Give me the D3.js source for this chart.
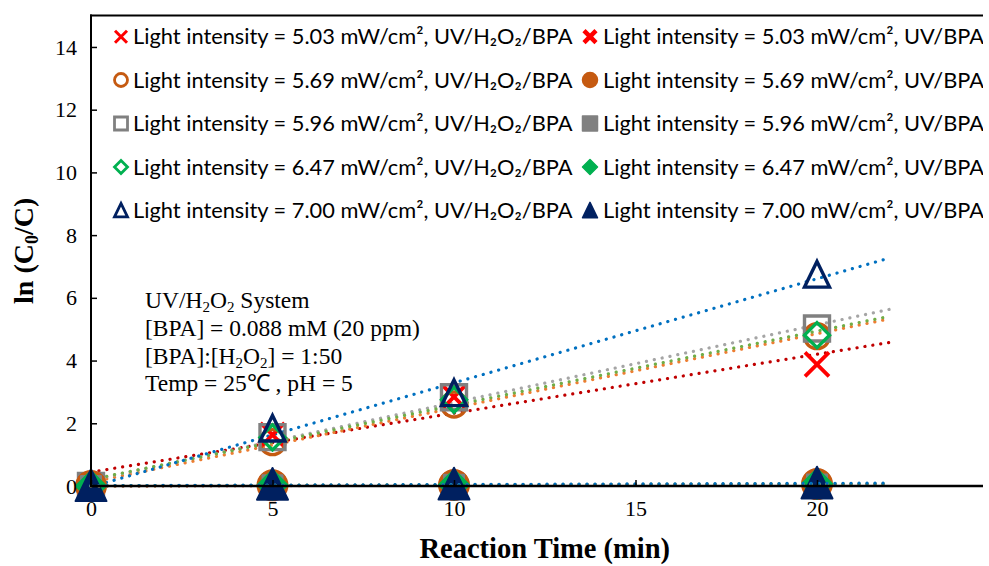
<!DOCTYPE html>
<html><head><meta charset="utf-8">
<script src="https://cdn.jsdelivr.net/npm/d3@7"></script>
<style>body{margin:0;background:#fff}svg{display:block}</style>
</head><body>
<svg id="c" width="989" height="566"></svg>
<script>
// ---- data ----
const times = [0, 5, 10, 20];
const intensities = ["5.03", "5.69", "5.96", "6.47", "7.00"];
const uvH2O2 = [
  [0, 1.63, 2.84, 3.88],
  [0, 1.40, 2.60, 4.78],
  [0, 1.56, 2.83, 5.02],
  [0, 1.55, 2.75, 4.81],
  [0, 1.82, 2.95, 6.73]
];
const uvOnly = [
  [0, 0.01, 0.03, 0.05],
  [0, 0.02, 0.03, 0.06],
  [0, 0.02, 0.04, 0.05],
  [0, 0.03, 0.04, 0.07],
  [0, 0.04, 0.05, 0.08]
];
const xTicks = [0, 5, 10, 15, 20];
const yTicks = [0, 2, 4, 6, 8, 10, 12, 14];
const annotation = ["UV/H_2O_2 System", "[BPA] = 0.088 mM (20 ppm)", "[BPA]:[H_2O_2] = 1:50", "Temp = 25\u2103 , pH = 5"];

// ---- styles ----
const shapes = ["x", "circle", "square", "diamond", "triangle"];
const markerColors = ["#FF0000", "#C55A11", "#808080", "#00B050", "#002060"];
const trendColors = ["#C00000", "#ED7D31", "#A5A5A5", "#70AD47", "#0070C0"];
const filledSizes = [22, 30, 20, 30, 31];

const svg = d3.select("#c");
const x = d3.scaleLinear().domain([0, 25]).range([91, 998.5]);
const y = d3.scaleLinear().domain([0, 15]).range([486, 15.6]);
const clipRight = 983;
const serif = "'Liberation Serif','Times New Roman',serif";

svg.append("defs").append("clipPath").attr("id", "clip")
  .append("rect").attr("x", 0).attr("y", 0).attr("width", clipRight).attr("height", 566);

function markerPath(shape, s) {
  const p = d3.path(), h = s / 2;
  if (shape === "x") { p.moveTo(-h, -h); p.lineTo(h, h); p.moveTo(-h, h); p.lineTo(h, -h); }
  else if (shape === "circle") { p.moveTo(h, 0); p.arc(0, 0, h, 0, 2 * Math.PI); p.closePath(); }
  else if (shape === "square") { p.rect(-h, -h, s, s); }
  else if (shape === "diamond") { p.moveTo(0, -h); p.lineTo(h, 0); p.lineTo(0, h); p.lineTo(-h, 0); p.closePath(); }
  else if (shape === "triangle") { const hh = s * 0.54; p.moveTo(0, -hh); p.lineTo(h, hh * 0.9); p.lineTo(-h, hh * 0.9); p.closePath(); }
  return p.toString();
}

function fit(xs, ys) {
  const n = xs.length, mx = d3.mean(xs), my = d3.mean(ys);
  let sxy = 0, sxx = 0;
  for (let i = 0; i < n; i++) { sxy += (xs[i] - mx) * (ys[i] - my); sxx += (xs[i] - mx) ** 2; }
  const b = sxy / sxx; return { a: my - b * mx, b };
}

const g = svg.append("g").attr("clip-path", "url(#clip)");

// axes
const yAxis = d3.axisLeft(y).tickValues(yTicks).tickSize(-6).tickPadding(14).tickFormat(d3.format("d"));
const yg = svg.append("g").attr("transform", `translate(${x(0)},0)`).call(yAxis)
  .attr("font-family", serif).attr("font-size", 22);
yg.select(".domain").remove();
yg.selectAll("line").attr("stroke", "#000").attr("stroke-width", 1.5);
yg.selectAll("text").style("font-family", serif).style("font-size", "22px").attr("fill", "#000");

const xAxis = d3.axisBottom(x).tickValues(xTicks).tickSize(-6).tickPadding(14).tickFormat(d3.format("d"));
const xg = svg.append("g").attr("transform", `translate(0,${y(0)})`).call(xAxis)
  .attr("font-family", serif).attr("font-size", 22);
xg.select(".domain").remove();
xg.selectAll("line").attr("stroke", "#000").attr("stroke-width", 1.5);
xg.selectAll("text").style("font-family", serif).style("font-size", "22px").attr("fill", "#000");

// frame lines
svg.append("line").attr("x1", x(0)).attr("x2", x(0)).attr("y1", y(15) - 1).attr("y2", y(0)).attr("stroke", "#000").attr("stroke-width", 2);
svg.append("line").attr("x1", x(0) - 1).attr("x2", clipRight).attr("y1", y(15)).attr("y2", y(15)).attr("stroke", "#000").attr("stroke-width", 2);
svg.append("line").attr("x1", x(0) - 1).attr("x2", clipRight).attr("y1", y(0)).attr("y2", y(0)).attr("stroke", "#000").attr("stroke-width", 2.5);

const line = d3.line().x(d => x(d[0])).y(d => y(d[1]));
function trend(vals, i) {
  const f = fit(times, vals);
  g.append("path").attr("d", line([[0, f.a], [22, f.a + 22 * f.b]]))
    .attr("fill", "none").attr("stroke", trendColors[i]).attr("stroke-width", 3.2)
    .attr("stroke-linecap", "round").attr("stroke-dasharray", "0.1 7.9");
}

// sloped trendlines
uvH2O2.forEach((v, i) => trend(v, i));

// open markers
uvH2O2.forEach((v, i) => {
  g.selectAll(null).data(times.map((t, j) => [t, v[j]])).join("path")
    .attr("transform", d => `translate(${x(d[0])},${y(d[1])})`)
    .attr("d", markerPath(shapes[i], shapes[i] === "x" ? 24 : 25))
    .attr("fill", "none").attr("stroke", markerColors[i]).attr("stroke-width", shapes[i] === "x" ? 3.8 : 3.4);
});

// filled markers
uvOnly.forEach((v, i) => {
  const s = shapes[i];
  g.selectAll(null).data(times.map((t, j) => [t, v[j]])).join("path")
    .attr("transform", d => `translate(${x(d[0])},${y(d[1])})`)
    .attr("d", markerPath(s, filledSizes[i]))
    .attr("fill", s === "x" ? "none" : markerColors[i]).attr("stroke", markerColors[i])
    .attr("stroke-width", s === "x" ? 6 : 2).attr("stroke-linejoin", "round");
});

// flat trendlines
uvOnly.forEach((v, i) => trend(v, i));

// legend
const legendFont = "Lato, 'Noto Sans', sans-serif";
const rowsY = [36.7, 80, 123.5, 167, 210.5];
const col1Text = intensities.map(s => `Light intensity = ${s} mW/cm\u00B2, UV/H\u2082O\u2082/BPA`);
const col2Text = intensities.map(s => `Light intensity = ${s} mW/cm\u00B2, UV/BPA`);
const probe = svg.append("text").attr("font-family", legendFont).attr("font-size", 20).text(col1Text[0]);
const w = probe.node().getComputedTextLength();
probe.remove();
const lfs = 20 * 440 / w;

const lg = svg.append("g").attr("clip-path", "url(#clip)");
intensities.forEach((s, i) => {
  const sh = shapes[i];
  lg.append("path").attr("transform", `translate(121,${rowsY[i]})`)
    .attr("d", markerPath(sh, sh === "x" ? 12 : 13)).attr("fill", "none")
    .attr("stroke", markerColors[i]).attr("stroke-width", sh === "x" ? 3 : 2.8);
  lg.append("text").attr("x", 133).attr("y", rowsY[i]).attr("dy", "0.35em")
    .attr("font-family", legendFont).attr("font-size", lfs).attr("fill", "#000").text(col1Text[i]);
  lg.append("path").attr("transform", `translate(590,${rowsY[i]})`)
    .attr("d", markerPath(sh, sh === "x" ? 12 : 15))
    .attr("fill", sh === "x" ? "none" : markerColors[i]).attr("stroke", markerColors[i])
    .attr("stroke-width", sh === "x" ? 4.5 : 1.5).attr("stroke-linejoin", "round");
  lg.append("text").attr("x", 603).attr("y", rowsY[i]).attr("dy", "0.35em")
    .attr("font-family", legendFont).attr("font-size", lfs).attr("fill", "#000").text(col2Text[i]);
});

// annotation ("_" marks a subscript character)
const annY = [308, 336, 364, 391];
annotation.forEach((t, i) => {
  const tx = svg.append("text").attr("font-family", serif).attr("font-size", 23.5).attr("fill", "#000");
  const parts = t.split(/(_.)/).filter(p => p.length);
  parts.forEach((p, k) => {
    const sp = tx.append("tspan").attr("y", annY[i] + (p[0] === "_" ? 3.5 : 0));
    if (k === 0) sp.attr("x", 145);
    if (p[0] === "_") sp.attr("font-size", 15).text(p.slice(1));
    else sp.text(p);
  });
});

// axis titles
const yt = svg.append("text").attr("transform", `translate(33,${(y(0) + y(15)) / 2}) rotate(-90)`)
  .attr("text-anchor", "middle").attr("font-family", serif).attr("font-weight", "bold").attr("font-size", 28).attr("fill", "#000");
yt.append("tspan").text("ln (C");
yt.append("tspan").attr("font-size", 18).attr("dy", 5).text("0");
yt.append("tspan").attr("dy", -5).text("/C)");

svg.append("text").attr("x", (x(0) + x(25)) / 2).attr("y", 558).attr("text-anchor", "middle")
  .attr("font-family", serif).attr("font-weight", "bold").attr("font-size", 28.5).attr("fill", "#000")
  .text("Reaction Time (min)");
</script>
</body></html>
